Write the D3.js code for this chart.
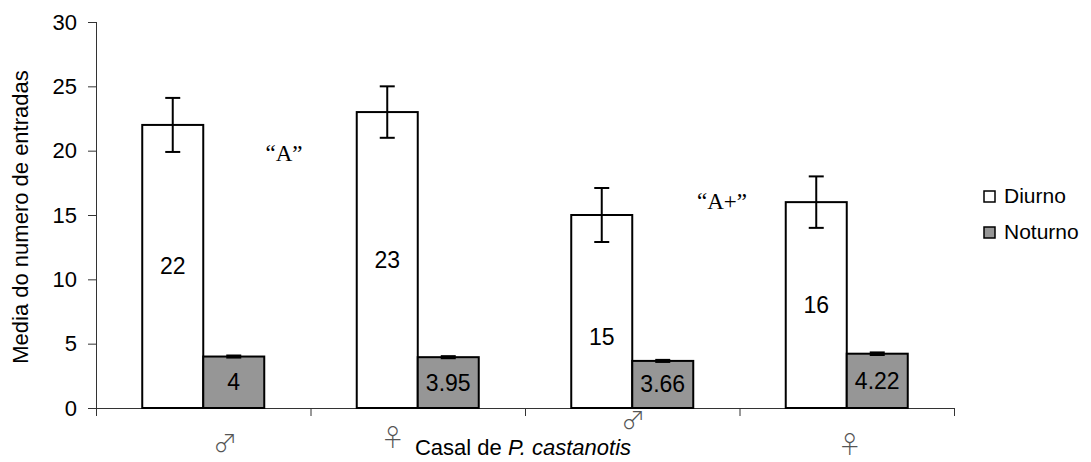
<!DOCTYPE html>
<html>
<head>
<meta charset="utf-8">
<script src="https://cdn.jsdelivr.net/npm/d3@7"></script>
<style>
  html, body { margin: 0; padding: 0; background: #fff; }
  svg { display: block; font-family: "Liberation Sans", Arial, sans-serif; }
</style>
</head>
<body>
<svg id="chart" width="1091" height="462"></svg>
<script>
// Mean number of nest entries per member of the P. castanotis pair, day vs night
const series = ["Diurno", "Noturno"];
const tickLabels = ["\u2642", "\u2640", "\u2642", "\u2640"];
const diurno = [22, 23, 15, 16];
const noturno = [4, 3.95, 3.66, 4.22];
const diurnoErr = [2.1, 2.0, 2.1, 2.0];
const noturnoErr = [0.08, 0.08, 0.08, 0.1];
const yTicks = [0, 5, 10, 15, 20, 25, 30];

// label nudges (px) for the category symbols and the day-count labels
const tickNudge = [[22, 6], [-25, 0], [1, -17], [3, 7]];
const dayLabelNudge = [0, 0, 25, 0];

const svg = d3.select("#chart");
const plotLeft = 96, plotRight = 954, plotTop = 22, plotBottom = 408;

const y = d3.scaleLinear().domain([0, 30]).range([plotBottom, plotTop]);
const x0 = d3.scaleBand().domain(d3.range(tickLabels.length)).range([plotLeft, plotRight]).paddingInner(0).paddingOuter(0);
const x1 = d3.scaleBand().domain(series).range([0, x0.bandwidth()]).paddingInner(0).paddingOuter(0.758);
const fills = { Diurno: "#ffffff", Noturno: "#969696" };

// y axis
const yAxis = svg.append("g")
  .attr("transform", `translate(${plotLeft},0)`)
  .call(d3.axisLeft(y).tickValues(yTicks).tickSize(8).tickPadding(11).tickSizeOuter(0));
yAxis.select(".domain").attr("stroke", "#333").attr("d", `M0.5,${plotTop}V${plotBottom + 5}`);
yAxis.selectAll(".tick line").attr("stroke", "#333");
yAxis.selectAll(".tick text").attr("font-size", 22).attr("fill", "#000");

// x axis: tick marks on the category boundaries
const xb = d3.scaleLinear().domain([0, tickLabels.length]).range([plotLeft, plotRight]);
const xAxis = svg.append("g")
  .attr("transform", `translate(0,${plotBottom})`)
  .call(d3.axisBottom(xb).ticks(tickLabels.length).tickSize(8).tickFormat(() => "").tickSizeOuter(0));
xAxis.select(".domain").attr("stroke", "#333");
xAxis.selectAll(".tick line").attr("stroke", "#333");

// category symbols
svg.append("g").selectAll("text")
  .data(tickLabels)
  .join("text")
  .attr("x", (d, i) => x0(i) + x0.bandwidth() / 2 + tickNudge[i][0])
  .attr("y", (d, i) => plotBottom + 38 + tickNudge[i][1])
  .attr("text-anchor", "middle")
  .attr("font-family", "Noto Sans CJK JP, DejaVu Sans")
  .attr("font-weight", 300)
  .attr("font-size", 24)
  .attr("fill", "#555")
  .text(d => d);

const rows = tickLabels.map((t, i) => ({
  i,
  values: [
    { key: "Diurno", v: diurno[i], e: diurnoErr[i] },
    { key: "Noturno", v: noturno[i], e: noturnoErr[i] }
  ]
}));

const groups = svg.append("g").selectAll("g")
  .data(rows)
  .join("g")
  .attr("transform", d => `translate(${x0(d.i)},0)`);

// bars
groups.selectAll("rect")
  .data(d => d.values)
  .join("rect")
  .attr("x", d => x1(d.key))
  .attr("y", d => y(d.v))
  .attr("width", x1.bandwidth())
  .attr("height", d => y(0) - y(d.v))
  .attr("fill", d => fills[d.key])
  .attr("stroke", "#000")
  .attr("stroke-width", 2);

// error bars
const err = groups.selectAll("g.err")
  .data(d => d.values)
  .join("g")
  .attr("class", "err")
  .attr("transform", d => `translate(${x1(d.key) + x1.bandwidth() / 2},0)`);
err.append("line")
  .attr("y1", d => y(d.v + d.e)).attr("y2", d => y(d.v - d.e))
  .attr("stroke", "#000").attr("stroke-width", 2);
err.append("line")
  .attr("x1", -7.5).attr("x2", 7.5)
  .attr("y1", d => y(d.v + d.e)).attr("y2", d => y(d.v + d.e))
  .attr("stroke", "#000").attr("stroke-width", 2);
err.append("line")
  .attr("x1", -7.5).attr("x2", 7.5)
  .attr("y1", d => y(d.v - d.e)).attr("y2", d => y(d.v - d.e))
  .attr("stroke", "#000").attr("stroke-width", 2);

// value labels inside the bars
groups.selectAll("text.val")
  .data(d => d.values.map(v => ({ ...v, i: d.i })))
  .join("text")
  .attr("class", "val")
  .attr("x", d => x1(d.key) + x1.bandwidth() / 2)
  .attr("y", d => (y(d.v) + y(0)) / 2 + 8 + (d.key === "Diurno" ? dayLabelNudge[d.i] : 0))
  .attr("text-anchor", "middle")
  .attr("font-size", 23)
  .attr("fill", "#000")
  .text(d => d.v);

// axis titles
svg.append("text")
  .attr("transform", `translate(28,${(plotTop + plotBottom) / 2 + 2}) rotate(-90)`)
  .attr("text-anchor", "middle")
  .attr("font-size", 22)
  .text("Media do numero de entradas");

const xt = svg.append("text")
  .attr("x", 523).attr("y", 455)
  .attr("text-anchor", "middle")
  .attr("font-size", 22);
xt.append("tspan").text("Casal de ");
xt.append("tspan").attr("font-style", "italic").text("P. castanotis");

// group annotations
const notes = [{ t: "\u201cA\u201d", x: 284, v: 19.2 }, { t: "\u201cA+\u201d", x: 722, v: 15.5 }];
svg.append("g").selectAll("text")
  .data(notes)
  .join("text")
  .attr("x", d => d.x).attr("y", d => y(d.v))
  .attr("text-anchor", "middle")
  .attr("font-family", "Liberation Serif, Times New Roman, serif")
  .attr("font-size", 23)
  .text(d => d.t);

// legend
const legend = svg.append("g").selectAll("g")
  .data(series)
  .join("g")
  .attr("transform", (d, i) => `translate(984,${191 + i * 36})`);
legend.append("rect")
  .attr("width", 11).attr("height", 11)
  .attr("fill", d => fills[d]).attr("stroke", "#000").attr("stroke-width", 1.5);
legend.append("text")
  .attr("x", 20).attr("y", 12)
  .attr("font-size", 21)
  .text(d => d);
</script>
</body>
</html>
